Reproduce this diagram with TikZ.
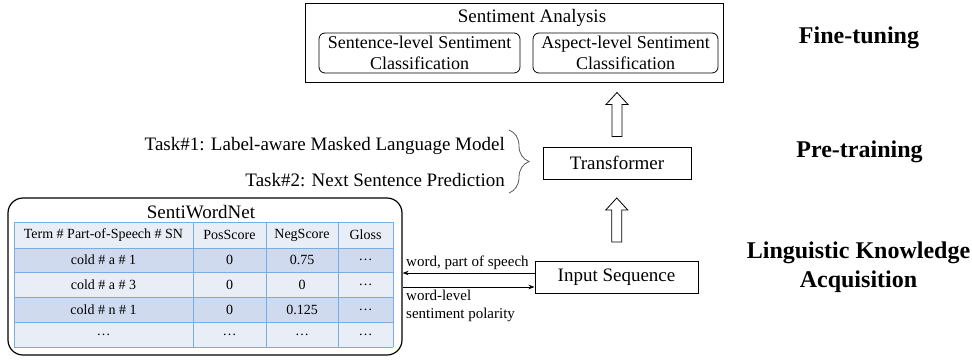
\documentclass[tikz,border=0pt]{standalone}
\usepackage{fontspec}
\setmainfont{Liberation Serif}
\usetikzlibrary{arrows.meta,calc,decorations.pathreplacing}
\newcommand\FMain{\fontsize{19}{22}\selectfont}
\newcommand\FInner{\fontsize{18}{21}\selectfont}
\newcommand\FTab{\fontsize{14}{16}\selectfont}
\newcommand\FSmall{\fontsize{15}{18}\selectfont}
\newcommand\FBig{\fontsize{24}{29}\selectfont\bfseries}
\definecolor{tdark}{HTML}{CFDAEE}
\definecolor{tlight}{HTML}{E9EDF5}
\definecolor{tline}{HTML}{78ADE2}
\begin{document}
\begin{tikzpicture}[x=1pt,y=-1pt,
  box/.style={draw, line width=1pt, inner sep=0pt, align=center, font=\FMain},
  rbox/.style={draw, line width=0.8pt, rounded corners=6pt, inner sep=0pt, align=center, font=\FInner},
  txt/.style={inner sep=0pt, font=\FMain},
  tab/.style={inner sep=0pt, font=\FTab},
  lbl/.style={inner sep=0pt, font=\FSmall, align=left},
  stage/.style={inner sep=0pt, font=\FBig, align=center},
  link/.style={line width=0.8pt, -{Stealth[length=6pt,width=4.5pt]}},
  hollow/.pic={\draw[line width=0.8pt, fill=white] (-5pt,-22pt) -- (-5pt,10pt) -- (-11pt,10pt) -- (0pt,22pt) -- (11pt,10pt) -- (5pt,10pt) -- (5pt,-22pt) -- cycle;}
]
\useasboundingbox (0,0) rectangle (972,360);

% Fine-tuning block
\node[box, minimum width=418pt, minimum height=79pt] (top) at (514,42.5) {};
\node[txt] (sa) at (532,18) {Sentiment Analysis};
\node[rbox, minimum width=201pt, minimum height=40pt] (sent) at (419.5,53) {Sentence-level Sentiment\\Classification};
\node[rbox, minimum width=185pt, minimum height=40pt] (asp) at (625.5,53) {Aspect-level Sentiment\\Classification};

% Pre-training
\node[box, minimum width=148pt, minimum height=32pt] (trans) at (617,163) {Transformer};
\node[txt, anchor=east] (t1) at (505,146) {Task\#1: Label-aware Masked Language Model};
\node[txt, anchor=east] (t2) at (505,180) {Task\#2: Next Sentence Prediction};
\draw[decorate, decoration={brace, amplitude=20pt}, black!65, line width=0.8pt] (509,130) -- (509,193);

% Input
\node[box, minimum width=163pt, minimum height=32pt] (insq) at (616.5,277) {Input Sequence};

\pic at ($(trans.north)!0.5!(trans.north |- top.south)$) {hollow};
\pic at ($(insq.north)!0.5!(trans.south)$) {hollow};

% SentiWordNet
\node[draw, line width=1.2pt, rounded corners=15pt, minimum width=394pt, minimum height=157pt, inner sep=0pt] (swn) at (205,276.5) {};
\node[txt] (swnt) at (201,212) {SentiWordNet};
\fill[tlight] (14,222) rectangle (393,248);
\fill[tdark] (14,248) rectangle (393,272);
\fill[tlight] (14,272) rectangle (393,297);
\fill[tdark] (14,297) rectangle (393,322);
\fill[tlight] (14,322) rectangle (393,347);
\foreach \y in {222,248,272,297,322,347} \draw[tline, line width=0.9pt] (14,\y) -- (393,\y);
\foreach \x in {14,193,266,338,393} \draw[tline, line width=0.9pt] (\x,222) -- (\x,347);
\node[tab] (h1) at (103.5,235) {Term \# Part-of-Speech \# SN};
\node[tab] (h2) at (229.5,235) {PosScore};
\node[tab] (h3) at (302,235) {NegScore};
\node[tab] (h4) at (365.5,235) {Gloss};
\node[tab] (a1) at (103.5,260) {cold \# a \# 1};
\node[tab] (a2) at (229.5,260) {0};
\node[tab] (a3) at (302,260) {0.75};
\node[tab] (a4) at (365.5,260) {…};
\node[tab] (b1) at (103.5,284.5) {cold \# a \# 3};
\node[tab] (b2) at (229.5,284.5) {0};
\node[tab] (b3) at (302,284.5) {0};
\node[tab] (b4) at (365.5,284.5) {…};
\node[tab] (c1) at (103.5,309.5) {cold \# n \# 1};
\node[tab] (c2) at (229.5,309.5) {0};
\node[tab] (c3) at (302,309.5) {0.125};
\node[tab] (c4) at (365.5,309.5) {…};
\node[tab] (d1) at (103.5,334.5) {…};
\node[tab] (d2) at (229.5,334.5) {…};
\node[tab] (d3) at (302,334.5) {…};
\node[tab] (d4) at (365.5,334.5) {…};

% links
\draw[link] ([yshift=4pt]insq.west) -- ([yshift=4pt]insq.west -| swn.east);
\draw[link] ([yshift=-10pt]insq.west -| swn.east) -- ([yshift=-10pt]insq.west);
\node[lbl, anchor=west] (l1) at (406,263) {word, part of speech};
\node[lbl, anchor=west] (l2) at (406,306) {word-level\\sentiment polarity};

% stage labels
\node[stage] (s1) at (859,38) {Fine-tuning};
\node[stage] (s2) at (859.5,152) {Pre-training};
\node[stage] (s3) at (858.5,267.5) {Linguistic Knowledge\\Acquisition};
\end{tikzpicture}
\end{document}
